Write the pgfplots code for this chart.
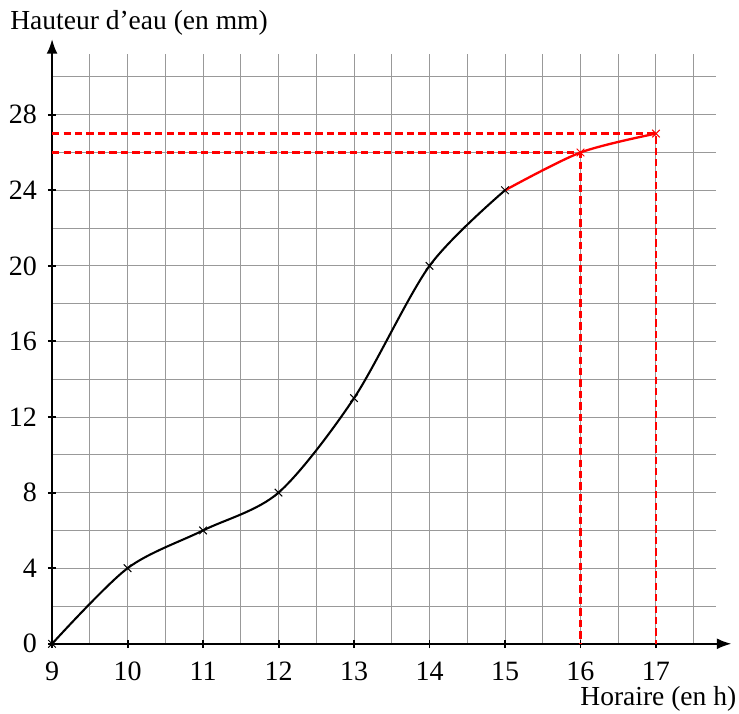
\documentclass[border=0pt]{standalone}
\usepackage{fontspec}
\setmainfont{Liberation Serif}
\usepackage{pgfplots}
\pgfplotsset{compat=1.18}
\usetikzlibrary{arrows.meta}
\begin{document}
\begin{tikzpicture}[font=\fontsize{11.3}{13}\selectfont]
\begin{axis}[
    x=31pt, y=7.76pt,
    xmin=9, xmax=17.8, ymin=0, ymax=31.2,
    axis lines=left,
    axis line style={thick},
    x axis line style={-{Latex[length=6pt,width=4.5pt]}, shorten >=-6.2pt},
    y axis line style={-{Latex[length=6pt,width=4.5pt]}, shorten >=-6.2pt},
    xtick={9,...,17}, ytick={0,4,...,28},
    minor xtick={9.5,10.5,...,17.5}, minor ytick={2,6,...,30},
    grid=both,
    major grid style={gray!80, thin},
    minor grid style={gray!80, thin},
    tick align=center, major tick length=3.5pt, minor tick length=0pt,
    tick style={black, thick},
    /pgf/number format/assume math mode=true,
    ticklabel style={font=\fontsize{11.5}{14}\selectfont},
    xticklabel style={yshift=-2pt},
    yticklabel style={xshift=-1pt},
    clip=false,
]
% pointilles de lecture
\addplot[red, line width=1pt, dash pattern=on 3pt off 1.7pt] coordinates {(9,26) (16,26) (16,0)};
\addplot[red, line width=1pt, dash pattern=on 3pt off 1.7pt] coordinates {(9,27) (17,27) (17,0)};

% courbe mesuree
\addplot[black, line width=0.85pt, smooth, mark=x, mark size=2.2pt, mark options={thin}]
    coordinates {(9,0) (10,4) (11,6) (12,8) (13,13) (14,20) (15,24)};
% prolongement
\addplot[red, line width=0.95pt, smooth, mark=x, mark size=2.2pt, mark options={thin}, mark indices={2,3}]
    coordinates {(15,24) (16,26) (17,27)};

\node[anchor=base west, inner sep=0pt] at (axis cs:8.44,32.49) {Hauteur d’eau (en mm)};
\node[anchor=base east, inner sep=0pt] at (axis cs:18.07,-3.27) {Horaire (en h)};
% cadre de la figure
\path (axis cs:8.31,-3.70) rectangle (axis cs:18.10,34.07);
\end{axis}
\end{tikzpicture}
\end{document}
